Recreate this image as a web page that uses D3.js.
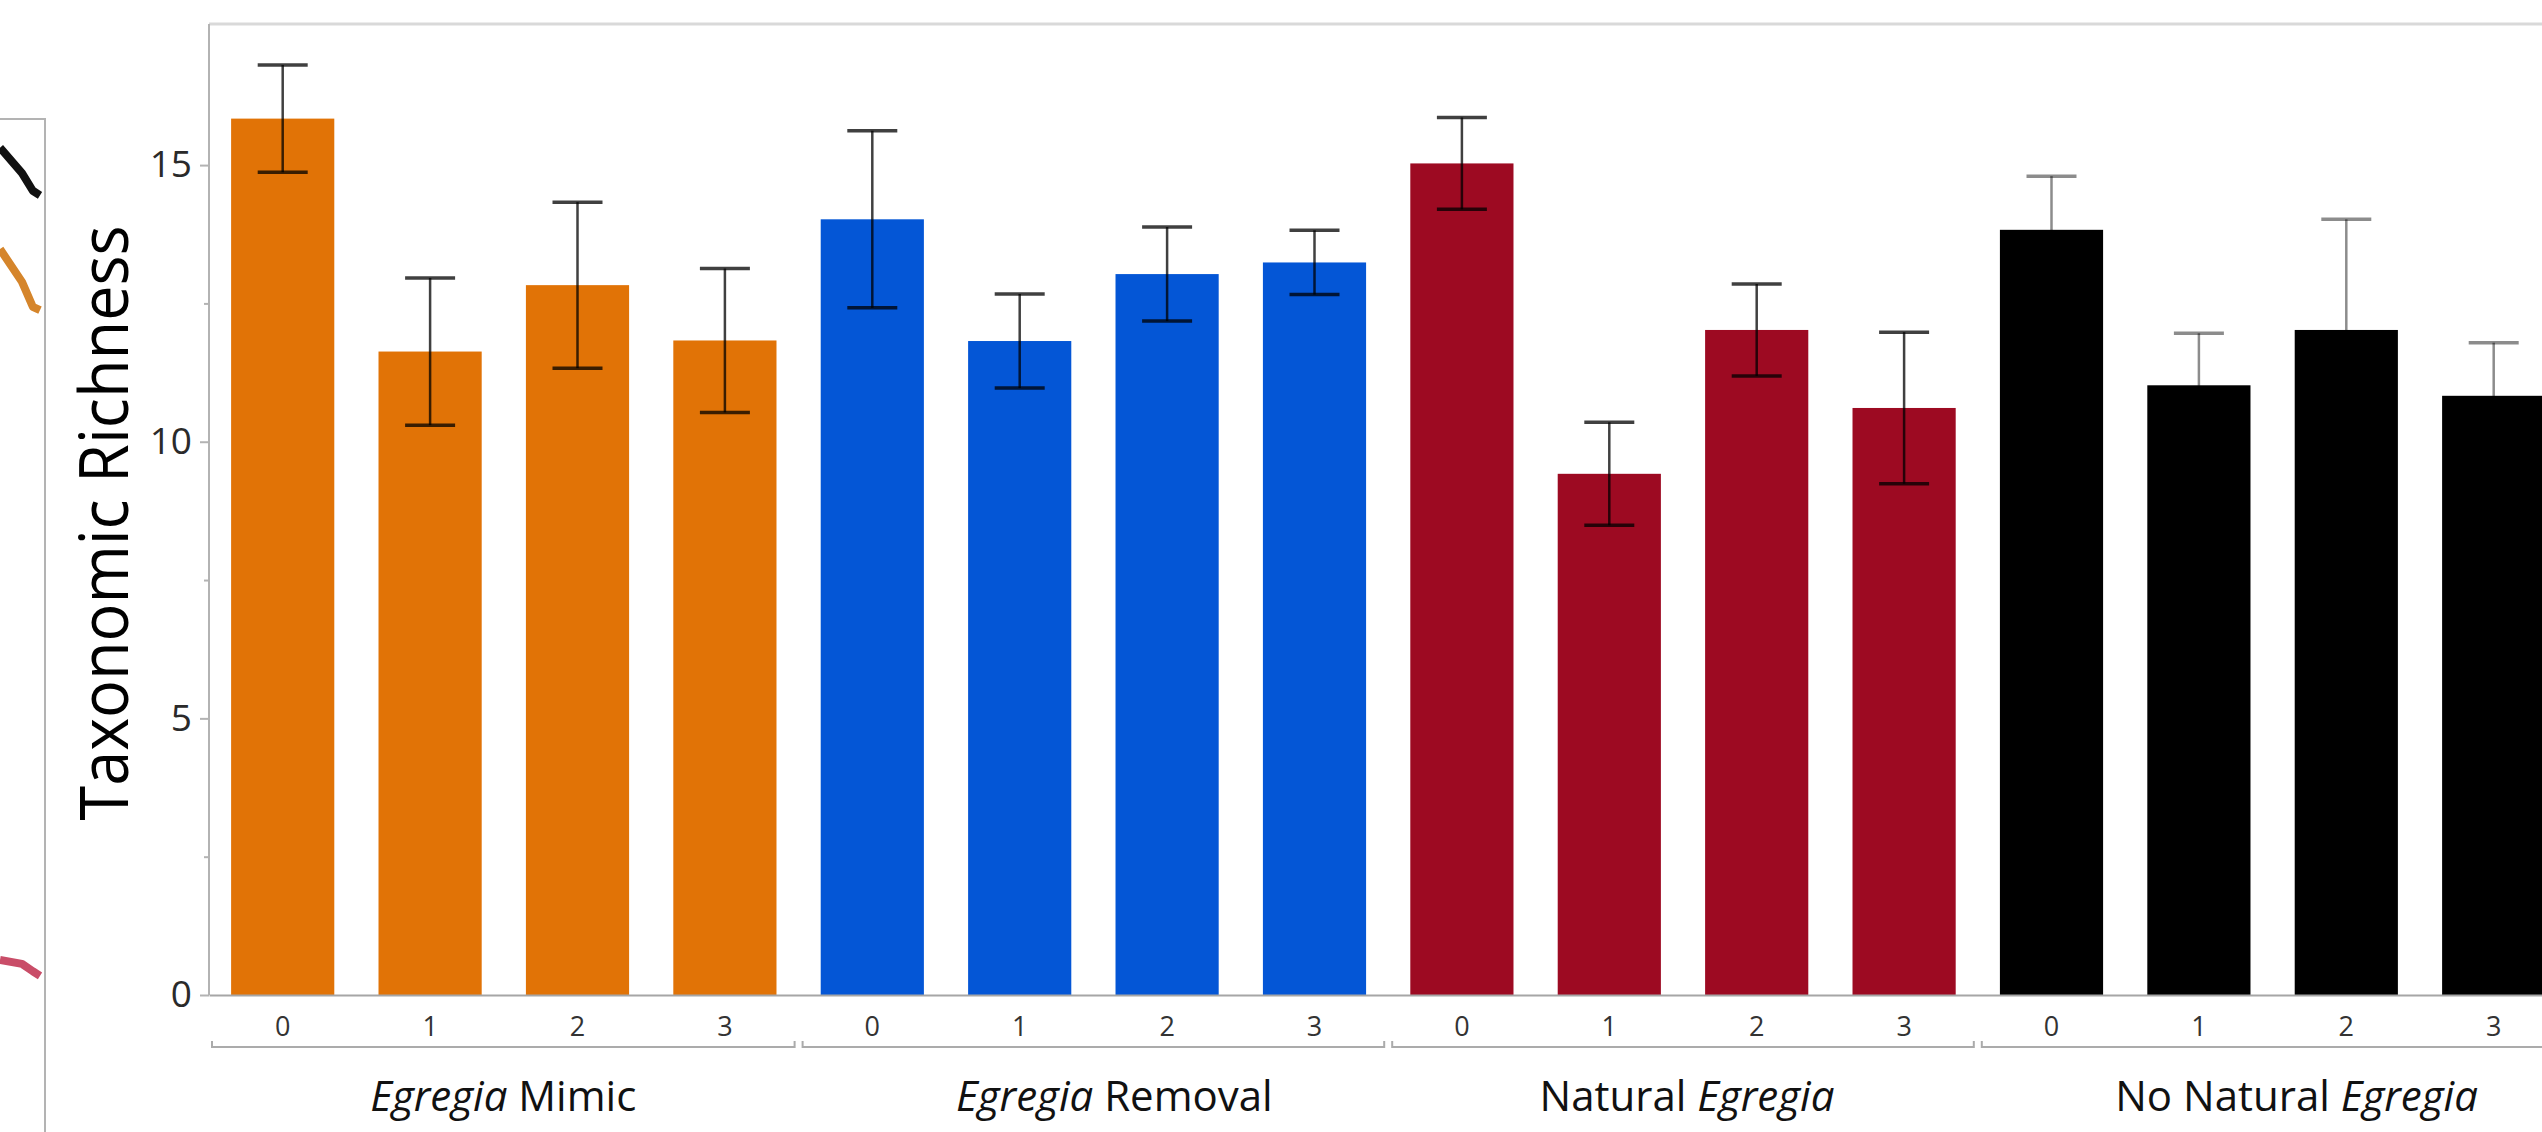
<!DOCTYPE html>
<html>
<head>
<meta charset="utf-8">
<script src="https://cdn.jsdelivr.net/npm/d3@7"></script>
<style>
  html, body { margin: 0; padding: 0; background: #fff; }
  svg { display: block; font-family: "Open Sans", "Noto Sans", sans-serif; }
</style>
</head>
<body>
<svg id="chart" width="2542" height="1132"></svg>
<script>
// ---------- data ----------
const categories = ["0", "1", "2", "3"];
const groups = ["Egregia Mimic", "Egregia Removal", "Natural Egregia", "No Natural Egregia"];
// label pieces: [text, italic]
const groupLabelParts = [
  [["Egregia", true], [" Mimic", false]],
  [["Egregia", true], [" Removal", false]],
  [["Natural ", false], ["Egregia", true]],
  [["No Natural ", false], ["Egregia", true]]
];
const mimicMeans    = [15.84, 11.63, 12.83, 11.83];
const mimicErr      = [0.97, 1.33, 1.50, 1.30];
const removalMeans  = [14.02, 11.82, 13.03, 13.24];
const removalErr    = [1.60, 0.85, 0.85, 0.58];
const naturalMeans  = [15.03, 9.42, 12.02, 10.61];
const naturalErr    = [0.83, 0.93, 0.83, 1.37];
const noNatMeans    = [13.83, 11.02, 12.02, 10.83];
const noNatErr      = [0.97, 0.94, 2.00, 0.96];
const yTicks = [0, 5, 10, 15];
const yMinorTicks = [2.5, 7.5, 12.5];
const yLabel = "Taxonomic Richness";

// fragment of the neighbouring (cropped) chart on the left
const fragSteps   = [0, 0.55, 0.82, 1];
const fragBlack   = [17.39, 16.94, 16.63, 16.55];
const fragOrange  = [15.60, 15.02, 14.58, 14.52];
const fragPink    = [3.04, 2.97, 2.84, 2.76];

// ---------- layout ----------
const colors = ["#E17306", "#0456D6", "#9D0A22", "#000000"];
const errOpacity = [0.75, 0.75, 0.75, 0.45];
const axisX = 209, baseY = 995, topY = 24;
const step = 147.4;

const svg = d3.select("#chart");

const rows = [];
const allMeans = [mimicMeans, removalMeans, naturalMeans, noNatMeans];
const allErr = [mimicErr, removalErr, naturalErr, noNatErr];
groups.forEach((g, gi) => {
  categories.forEach((c, ci) => {
    rows.push({ key: gi + "-" + c, group: gi, cat: c, mean: allMeans[gi][ci], err: allErr[gi][ci] });
  });
});

const x = d3.scaleBand()
  .domain(rows.map(d => d.key))
  .range([axisX, axisX + rows.length * step])
  .paddingInner(0.3)
  .paddingOuter(0.15);

const y = d3.scaleLinear().domain([0, 17.55]).range([baseY, topY]);

// top border
svg.append("line")
  .attr("x1", axisX).attr("x2", 2542)
  .attr("y1", topY).attr("y2", topY)
  .attr("stroke", "#d9d9d9").attr("stroke-width", 3);

// bars
svg.append("g").selectAll("rect").data(rows).join("rect")
  .attr("x", d => x(d.key))
  .attr("width", x.bandwidth())
  .attr("y", d => y(d.mean))
  .attr("height", d => y(0) - y(d.mean))
  .attr("fill", d => colors[d.group]);

// error bars (semi-transparent black, so they vanish over black bars)
const eb = svg.append("g").selectAll("g").data(rows).join("g")
  .attr("stroke", "#000")
  .attr("stroke-opacity", d => errOpacity[d.group])
  .attr("stroke-width", 2.5);
const capW = 50;
eb.append("line")
  .attr("x1", d => x(d.key) + x.bandwidth() / 2)
  .attr("x2", d => x(d.key) + x.bandwidth() / 2)
  .attr("y1", d => y(d.mean + d.err))
  .attr("y2", d => y(d.mean - d.err));
eb.append("line")
  .attr("x1", d => x(d.key) + x.bandwidth() / 2 - capW / 2)
  .attr("x2", d => x(d.key) + x.bandwidth() / 2 + capW / 2)
  .attr("y1", d => y(d.mean + d.err))
  .attr("y2", d => y(d.mean + d.err))
  .attr("stroke-width", 3.5);
eb.append("line")
  .attr("x1", d => x(d.key) + x.bandwidth() / 2 - capW / 2)
  .attr("x2", d => x(d.key) + x.bandwidth() / 2 + capW / 2)
  .attr("y1", d => y(d.mean - d.err))
  .attr("y2", d => y(d.mean - d.err))
  .attr("stroke-width", 3.5);

// y axis
const yAxis = svg.append("g")
  .attr("transform", `translate(${axisX},0)`)
  .call(d3.axisLeft(y).tickValues(yTicks).tickSize(9).tickPadding(8).tickFormat(d3.format("d")));
yAxis.select(".domain").attr("stroke", "#b3b3b3").attr("stroke-width", 2)
  .attr("d", `M0,${topY}V${baseY}`);
yAxis.selectAll(".tick line").attr("stroke", "#b3b3b3").attr("stroke-width", 2);
yAxis.selectAll(".tick text").attr("font-size", 37).attr("fill", "#2a2a2a")
  .attr("font-family", "'Open Sans', sans-serif");
const yMinor = svg.append("g")
  .attr("transform", `translate(${axisX},0)`)
  .call(d3.axisLeft(y).tickValues(yMinorTicks).tickSize(5).tickFormat(""));
yMinor.select(".domain").remove();
yMinor.selectAll(".tick line").attr("stroke", "#b3b3b3").attr("stroke-width", 2);

// x axis
const xAxis = svg.append("g")
  .attr("transform", `translate(0,${baseY})`)
  .call(d3.axisBottom(x).tickSize(0).tickPadding(22).tickFormat(k => k.split("-")[1]));
xAxis.select(".domain").attr("stroke", "#a6a6a6").attr("stroke-width", 2);
xAxis.selectAll(".tick text").attr("font-size", 27).attr("fill", "#333")
  .attr("font-family", "'Open Sans', sans-serif");

// group brackets
const bracketY = 1047;
const gap = 4;
const bracket = svg.append("g").attr("stroke", "#ababab").attr("stroke-width", 2).attr("fill", "none");
groups.forEach((g, gi) => {
  const k0 = rows.find(r => r.group === gi && r.cat === categories[0]).key;
  const k3 = rows.find(r => r.group === gi && r.cat === categories[categories.length - 1]).key;
  const left = x(k0) - x.step() * x.paddingOuter() + (gi === 0 ? 3 : gap);
  const right = x(k3) + x.bandwidth() + x.step() * x.paddingOuter() - gap;
  bracket.append("path")
    .attr("d", `M${left},${bracketY - 6}V${bracketY}H${right}V${bracketY - 6}`);
  const cx = (left + right) / 2 + [0, 21, 4, 24][gi];
  const t = svg.append("text")
    .attr("x", cx).attr("y", 1111)
    .attr("text-anchor", "middle")
    .attr("font-size", 42)
    .attr("fill", "#111");
  groupLabelParts[gi].forEach(([txt, it]) => {
    t.append("tspan").attr("font-style", it ? "italic" : "normal").text(txt);
  });
});

// y-axis title
svg.append("text")
  .attr("transform", "translate(128,523) rotate(-90)")
  .attr("text-anchor", "middle")
  .attr("font-size", 68)
  .attr("textLength", 595)
  .attr("lengthAdjust", "spacingAndGlyphs")
  .attr("fill", "#000")
  .text(yLabel);

// ---------- fragment of neighbouring chart ----------
const fx = d3.scaleLinear().domain([0, 1]).range([0, 40]);
const fy = d3.scaleLinear().domain([0, 20]).range([1132, 0]);
svg.append("path")
  .attr("d", `M0,119H45V1132`)
  .attr("fill", "none").attr("stroke", "#b3b3b3").attr("stroke-width", 2);
const fline = d3.line().x((d, i) => fx(fragSteps[i])).y(d => fy(d));
[[fragBlack, "#111"], [fragOrange, "#D5852B"], [fragPink, "#C94D68"]].forEach(([vals, col]) => {
  svg.append("path").attr("d", fline(vals))
    .attr("fill", "none").attr("stroke", col).attr("stroke-width", 8)
    .attr("stroke-linejoin", "round");
});
</script>
</body>
</html>
